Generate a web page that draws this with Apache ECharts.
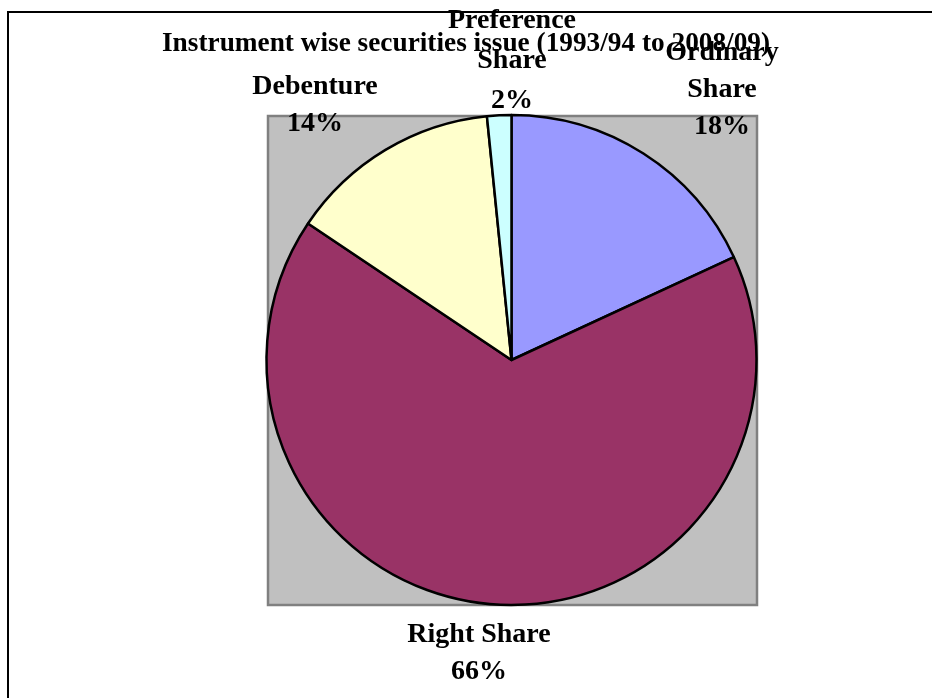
<!DOCTYPE html>
<html>
<head>
<meta charset="utf-8">
<script src="https://cdn.jsdelivr.net/npm/echarts@6/dist/echarts.min.js"></script>
<style>
html,body{margin:0;padding:0;background:#fff;}
#main{width:932px;height:698px;}
</style>
</head>
<body>
<div id="main"></div>
<script>
const titleText = 'Instrument wise securities issue (1993/94 to 2008/09)';
const categories = ['Ordinary Share', 'Right Share', 'Debenture', 'Preference Share'];
const labelNames = ['Ordinary\nShare', 'Right Share', 'Debenture', 'Preference\nShare'];
const values = [18.1, 66.3, 14.0, 1.6];
const colors = ['#9999FF', '#993366', '#FFFFCC', '#CCFFFF'];
const labelPos = [[722, 90], [479, 653], [315, 105], [512, 61]];
const labelLineHeights = [37, 37, 37, 40];

const chart = echarts.init(document.getElementById('main'), null, {renderer: 'canvas'});
const fontFamily = '"Liberation Serif", "Times New Roman", serif';

chart.setOption({
  backgroundColor: '#ffffff',
  animation: false,
  title: {
    text: titleText,
    left: 157,
    top: 24,
    textStyle: {fontFamily: fontFamily, fontWeight: 'bold', fontSize: 27.3, color: '#000', lineHeight: 30}
  },
  graphic: [
    {type: 'rect', z: -10, shape: {x: 8, y: 12, width: 1000, height: 1000},
      style: {fill: 'none', stroke: '#000', lineWidth: 2}},
    {type: 'rect', z: -5, shape: {x: 268, y: 116, width: 489, height: 489},
      style: {fill: '#C0C0C0', stroke: '#808080', lineWidth: 2.5}}
  ],
  series: [{
    type: 'pie',
    center: [511.5, 360],
    radius: 245,
    startAngle: 90,
    clockwise: true,
    avoidLabelOverlap: false,
    z: 3,
    data: categories.map((c, i) => ({
      name: c,
      value: values[i],
      itemStyle: {color: colors[i]},
      label: {lineHeight: labelLineHeights[i]}
    })),
    itemStyle: {borderColor: '#000', borderWidth: 2.5},
    label: {
      show: true,
      position: 'outside',
      formatter: p => labelNames[p.dataIndex] + '\n' + Math.round(p.percent) + '%',
      fontFamily: fontFamily,
      fontWeight: 'bold',
      fontSize: 28,
      color: '#000',
      align: 'center'
    },
    labelLine: {show: false},
    labelLayout: function (params) {
      const p = labelPos[params.dataIndex];
      return {x: p[0], y: p[1], align: 'center', verticalAlign: 'middle'};
    },
    emphasis: {disabled: true}
  }]
});
</script>
</body>
</html>
